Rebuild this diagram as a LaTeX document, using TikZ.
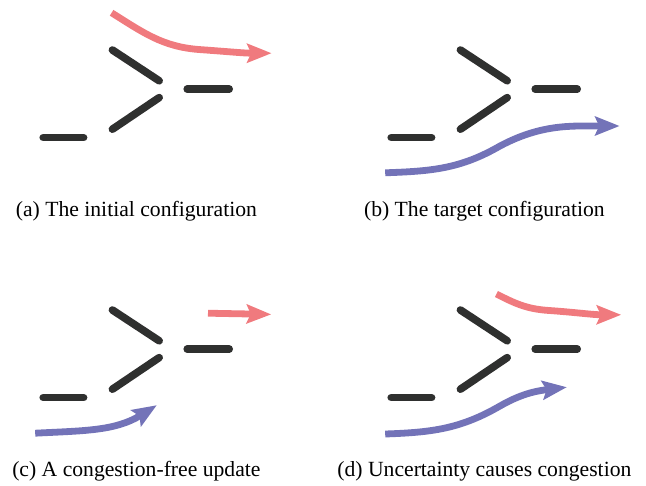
\documentclass[tikz,border=0pt]{standalone}
\usepackage{fontspec}
\setmainfont{Liberation Serif}
\usepackage{xcolor}
\usetikzlibrary{arrows.meta}
\definecolor{roadgray}{HTML}{2F302F}
\definecolor{flowred}{HTML}{F07A7E}
\definecolor{flowblue}{HTML}{7373B8}
\tikzset{
  road/.style={draw=roadgray, line width=1.9mm, line cap=round},
  flow/.style={line width=1.7mm, -{Stealth[length=6.1mm, width=4.7mm, inset=1mm]}},
  oldflow/.style={flow, draw=flowred},
  newflow/.style={flow, draw=flowblue},
  caption/.style={anchor=base, font=\fontsize{15.4}{18}\selectfont},
}

\begin{document}
\begin{tikzpicture}
\useasboundingbox (0,0) rectangle (16.15,-12.125);
\foreach \dx/\dy/\p/\t in {0/0/a/The initial configuration, 8.7/0/b/The target configuration, 0/-6.5/c/A congestion-free update, 8.7/-6.5/d/Uncertainty causes congestion}{
  \begin{scope}[shift={(\dx,\dy)}]
    \draw[road] (1.08,-3.44) -- (2.09,-3.44);
    \draw[road] (2.81,-1.25) -- (3.98,-2.02);
    \draw[road] (2.81,-3.23) -- (3.98,-2.44);
    \draw[road] (4.68,-2.23) -- (5.73,-2.23);
    \node[caption] (cap\p) at (3.41,-5.40) {(\p) \t};
  \end{scope}
}
\draw[oldflow] (2.79,-0.32) to[out=-32,in=176] (5.00,-1.24) to[out=-4,in=180] (6.79,-1.33);
\draw[newflow] (9.63,-4.32) to[out=2,in=210] (12.50,-3.65) to[out=28,in=180] (15.49,-3.15);
\draw[oldflow] (5.20,-7.83) -- (6.78,-7.86);
\draw[newflow] (0.88,-10.83) to[out=3,in=212] (3.92,-10.13);
\draw[oldflow] (12.41,-7.35) to[out=-27,in=176] (13.70,-7.76) to[out=-4,in=180] (15.53,-7.87);
\draw[newflow] (9.63,-10.85) to[out=2,in=210] (12.50,-10.15) to[out=30,in=187] (14.17,-9.68);
\end{tikzpicture}
\end{document}
